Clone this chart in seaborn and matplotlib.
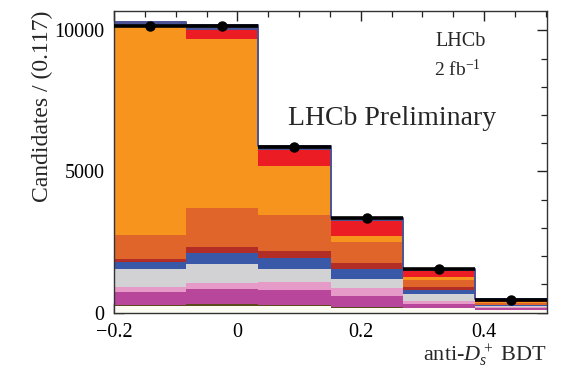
import numpy as np
import pandas as pd
import matplotlib
matplotlib.use("Agg")
import matplotlib.pyplot as plt
import seaborn as sns
from matplotlib.ticker import MultipleLocator

# ---- data ----
bin_edges = [-0.2, -0.083, 0.034, 0.151, 0.268, 0.385, 0.502]
components = ["cream", "olive", "magenta", "pink", "gray", "blue",
              "darkred", "darkorange", "orange", "red", "navy"]  # bottom -> top
cream      = [238, 238, 238, 180, 156, 113]
olive      = [22, 71, 35, 33, 4, 0]
magenta    = [485, 521, 532, 390, 159, 54]
pink       = [155, 234, 294, 262, 107, 46]
gray       = [630, 663, 440, 330, 219, 25]
blue       = [279, 401, 390, 355, 160, 17]
darkred    = [101, 212, 270, 202, 89, 18]
darkorange = [845, 1383, 1266, 766, 266, 53]
orange     = [7435, 5983, 1712, 212, 95, 36]
red        = [10, 319, 568, 522, 224, 71]
navy       = [90, 165, 166, 117, 60, 35]
data_counts = [10160, 10150, 5880, 3350, 1530, 450]

colors = {
    "cream": "#fbfbf2", "olive": "#5c4a1c", "magenta": "#b8479c",
    "pink": "#e59ac8", "gray": "#d2d2d4", "blue": "#3a58a8",
    "darkred": "#b22d25", "darkorange": "#df652a", "orange": "#f7941d",
    "red": "#ec1c24", "navy": "#4b5394",
}
layer_values = {"cream": cream, "olive": olive, "magenta": magenta, "pink": pink,
                "gray": gray, "blue": blue, "darkred": darkred,
                "darkorange": darkorange, "orange": orange, "red": red, "navy": navy}

edges = np.array(bin_edges)
centers = 0.5 * (edges[:-1] + edges[1:])
widths = np.diff(edges)

rows = []
for comp in components:
    for c, v in zip(centers, layer_values[comp]):
        rows.append({"x": float(c), "w": float(v), "comp": comp})
df = pd.DataFrame(rows)

# ---- style ----
sns.set_theme(style="ticks")
plt.rcParams["font.family"] = ["Liberation Serif", "DejaVu Serif"]
plt.rcParams["mathtext.fontset"] = "custom"
plt.rcParams["mathtext.rm"] = "Liberation Serif"
plt.rcParams["mathtext.it"] = "Liberation Serif:italic"

fig = plt.figure(figsize=(5.69, 3.74), dpi=100)
ax = fig.add_axes([114 / 569, 1 - 312.7 / 374, (547 - 114) / 569, (312.7 - 10.5) / 374])

sns.histplot(data=df, x="x", weights="w", hue="comp", hue_order=components[::-1],
             bins=list(bin_edges), multiple="stack", element="step", linewidth=0,
             alpha=1, palette=colors, legend=False, ax=ax)
sns.histplot(data=df, x="x", weights="w", bins=list(bin_edges), element="step", fill=False,
             color="#4b5394", linewidth=1.4, ax=ax)

ax.errorbar(centers, data_counts, xerr=widths / 2, yerr=np.sqrt(data_counts),
            fmt="o", color="black", ms=6.5, elinewidth=2.6, capsize=0, zorder=10)

ax.set_xlim(bin_edges[0], bin_edges[-1])
ax.set_ylim(0, 10700)
ax.xaxis.set_major_locator(MultipleLocator(0.2))
ax.xaxis.set_minor_locator(MultipleLocator(0.05))
ax.yaxis.set_major_locator(MultipleLocator(5000))
ax.yaxis.set_minor_locator(MultipleLocator(1000))
ax.xaxis.set_major_formatter(matplotlib.ticker.FuncFormatter(
    lambda v, p: ("\u2212" if v < -1e-9 else "") + (f"{abs(v):.1f}" if abs(v) > 1e-9 else "0")))

ax.tick_params(which="both", direction="in", top=True, right=True,
               colors="#222222", labelcolor="black", labelsize=14.5)
ax.tick_params(which="major", length=7, width=1)
ax.tick_params(which="minor", length=4, width=0.9)
ax.tick_params(axis="x", pad=7.5)
ax.tick_params(axis="y", pad=7)
for s in ax.spines.values():
    s.set_color("#333333")
    s.set_linewidth(1.0)

ax.set_xlabel("")
ax.set_ylabel("Candidates / (0.117)", fontsize=17, loc="top")
ax.yaxis.set_label_coords(-0.141, 1.0)

fig.text(547 / 569, 1 - 356 / 374, "anti-$D_s^+$ BDT", ha="right", va="center", fontsize=16)
fig.text(461 / 569, 1 - 42 / 374, "LHCb", ha="center", va="center", fontsize=14.5)
fig.text(457 / 569, 1 - 69 / 374, "2 fb$^{\\mathrm{-1}}$", ha="center", va="center", fontsize=14)
fig.text(392.5 / 569, 1 - 119 / 374, "LHCb Preliminary", ha="center", va="center", fontsize=20)

fig.savefig("out.png", dpi=100)
